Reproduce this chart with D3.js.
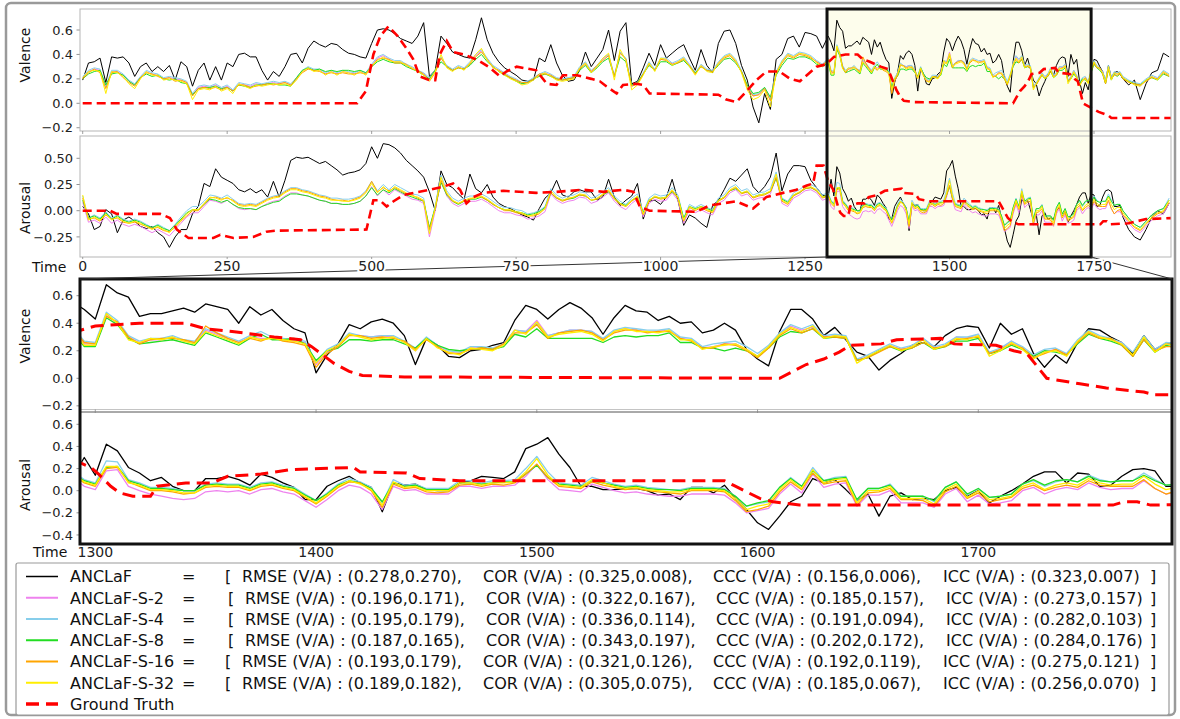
<!DOCTYPE html>
<html>
<head>
<meta charset="utf-8">
<script src="https://cdn.jsdelivr.net/npm/d3@7"></script>
<style>
  body { margin: 0; background: #fff; }
  svg { display: block; font-family: 'DejaVu Sans', sans-serif; }
</style>
</head>
<body>
<svg id="chart" width="1180" height="719"></svg>
<script>
// sampling grid: every 10 frames, every 5 inside the zoomed window
const time = d3.range(0, 1290, 10).concat(d3.range(1290, 1800, 5), d3.range(1800, 1890, 10));

// ---------------- valence ----------------
const ancV = [0.19,0.33,0.34,0.37,0.17,0.38,0.37,0.38,0.33,0.22,
 0.30,0.33,0.26,0.30,0.26,0.31,0.19,0.34,0.30,0.14,
 0.27,0.33,0.19,0.30,0.19,0.33,0.30,0.40,0.41,0.38,
 0.38,0.27,0.19,0.26,0.22,0.30,0.40,0.41,0.33,0.45,
 0.51,0.48,0.46,0.49,0.48,0.44,0.41,0.40,0.38,0.37,
 0.49,0.60,0.61,0.60,0.57,0.53,0.51,0.49,0.55,0.66,
 0.22,0.27,0.55,0.49,0.42,0.40,0.38,0.37,0.52,0.70,
 0.52,0.41,0.34,0.29,0.26,0.23,0.19,0.18,0.19,0.37,
 0.34,0.48,0.33,0.23,0.18,0.19,0.27,0.42,0.30,0.37,
 0.44,0.60,0.35,0.59,0.66,0.16,0.18,0.29,0.41,0.31,
 0.48,0.37,0.41,0.45,0.48,0.37,0.27,0.44,0.31,0.25,
 0.49,0.59,0.60,0.49,0.31,0.19,-0.03,-0.16,0.08,-0.05,
 0.36,0.40,0.53,0.55,0.46,0.58,0.57,0.55,0.45,
 0.55,0.50,0.43,0.68,0.62,0.59,0.45,0.47,0.47,0.49,
 0.51,0.48,0.54,0.52,0.50,0.40,0.52,0.46,0.50,0.42,
 0.36,0.33,0.04,0.17,0.25,0.39,0.36,0.41,0.43,0.40,
 0.31,0.10,0.29,0.24,0.16,0.15,0.20,0.21,0.24,0.26,
 0.42,0.53,0.50,0.43,0.50,0.55,0.51,0.44,0.32,0.44,
 0.53,0.49,0.48,0.42,0.45,0.40,0.41,0.33,0.35,0.40,
 0.35,0.21,0.14,0.09,0.34,0.50,0.50,0.43,0.31,0.37,
 0.28,0.19,0.16,0.06,0.13,0.18,0.24,0.26,0.23,0.31,
 0.36,0.38,0.37,0.22,0.40,0.32,0.36,0.18,0.08,0.17,
 0.11,0.26,0.36,0.35,0.30,0.26,0.18,0.31,0.21,0.25,
 0.26,0.24,
 0.20,0.15,0.19,0.03,0.16,0.25,0.27,0.41,0.38];

const s2V = [0.21,0.26,0.28,0.27,0.13,0.26,0.26,0.23,0.18,0.15,
 0.21,0.26,0.24,0.23,0.20,0.21,0.20,0.19,0.17,0.07,
 0.13,0.14,0.13,0.15,0.12,0.14,0.10,0.16,0.15,0.14,
 0.16,0.15,0.16,0.17,0.16,0.17,0.15,0.20,0.26,0.29,
 0.27,0.27,0.24,0.26,0.24,0.26,0.25,0.24,0.26,0.24,
 0.31,0.37,0.39,0.36,0.34,0.34,0.31,0.29,0.26,0.24,
 0.20,0.26,0.37,0.30,0.27,0.30,0.28,0.33,0.39,0.43,
 0.36,0.30,0.27,0.24,0.21,0.19,0.16,0.17,0.20,0.23,
 0.25,0.23,0.20,0.19,0.20,0.21,0.29,0.33,0.26,0.30,
 0.36,0.40,0.22,0.42,0.36,0.14,0.16,0.24,0.33,0.27,
 0.36,0.36,0.32,0.34,0.37,0.31,0.24,0.31,0.27,0.26,
 0.33,0.38,0.40,0.35,0.26,0.13,0.06,0.07,0.12,0.03,
 0.25,0.34,0.40,0.38,0.41,0.40,0.38,0.34,0.31,
 0.36,0.25,0.25,0.46,0.40,0.30,0.26,0.28,0.28,0.30,
 0.27,0.26,0.35,0.32,0.29,0.26,0.30,0.29,0.29,0.28,
 0.27,0.26,0.10,0.19,0.23,0.32,0.31,0.30,0.31,0.30,
 0.26,0.20,0.29,0.23,0.19,0.18,0.22,0.22,0.21,0.25,
 0.35,0.34,0.42,0.31,0.33,0.35,0.35,0.34,0.28,0.34,
 0.36,0.35,0.34,0.34,0.35,0.29,0.28,0.22,0.23,0.25,
 0.25,0.21,0.16,0.23,0.32,0.38,0.35,0.37,0.30,0.31,
 0.30,0.13,0.16,0.20,0.24,0.21,0.23,0.29,0.22,0.24,
 0.30,0.29,0.32,0.18,0.21,0.27,0.22,0.15,0.19,0.21,
 0.17,0.26,0.34,0.30,0.28,0.26,0.16,0.29,0.20,0.25,
 0.24,0.25,
 0.21,0.18,0.16,0.14,0.19,0.22,0.20,0.26,0.23];

const s4V = [0.22,0.27,0.29,0.28,0.14,0.27,0.27,0.24,0.19,0.16,
 0.22,0.27,0.25,0.24,0.21,0.22,0.21,0.20,0.18,0.08,
 0.14,0.15,0.14,0.16,0.13,0.15,0.11,0.17,0.16,0.15,
 0.17,0.16,0.17,0.18,0.17,0.18,0.16,0.21,0.27,0.30,
 0.28,0.28,0.25,0.27,0.25,0.27,0.26,0.25,0.27,0.25,
 0.32,0.38,0.40,0.37,0.35,0.35,0.32,0.30,0.27,0.25,
 0.21,0.27,0.38,0.31,0.28,0.31,0.29,0.34,0.40,0.44,
 0.37,0.31,0.28,0.25,0.22,0.20,0.17,0.18,0.21,0.24,
 0.26,0.24,0.21,0.20,0.21,0.22,0.30,0.34,0.27,0.31,
 0.37,0.40,0.23,0.42,0.37,0.15,0.17,0.25,0.34,0.28,
 0.37,0.37,0.33,0.35,0.38,0.32,0.25,0.32,0.28,0.27,
 0.34,0.39,0.41,0.36,0.27,0.14,0.07,0.08,0.13,0.04,
 0.26,0.35,0.41,0.39,0.42,0.41,0.39,0.35,0.32,
 0.37,0.27,0.26,0.48,0.42,0.31,0.27,0.29,0.29,0.31,
 0.28,0.27,0.36,0.33,0.30,0.27,0.31,0.34,0.30,0.29,
 0.28,0.27,0.12,0.21,0.25,0.33,0.31,0.30,0.31,0.31,
 0.27,0.22,0.30,0.24,0.20,0.19,0.23,0.23,0.22,0.25,
 0.35,0.34,0.40,0.31,0.33,0.35,0.35,0.34,0.29,0.35,
 0.37,0.36,0.35,0.35,0.36,0.30,0.29,0.23,0.25,0.26,
 0.27,0.23,0.18,0.24,0.33,0.39,0.36,0.39,0.31,0.32,
 0.31,0.14,0.17,0.21,0.25,0.22,0.24,0.29,0.23,0.25,
 0.30,0.30,0.32,0.19,0.22,0.27,0.23,0.17,0.21,0.22,
 0.18,0.28,0.35,0.31,0.29,0.26,0.19,0.31,0.21,0.26,
 0.25,0.26,
 0.22,0.19,0.17,0.16,0.20,0.23,0.21,0.27,0.24];

const s8V = [0.20,0.24,0.26,0.27,0.15,0.24,0.25,0.23,0.18,0.15,
 0.21,0.24,0.22,0.23,0.20,0.19,0.20,0.17,0.16,0.07,
 0.12,0.13,0.13,0.14,0.12,0.13,0.10,0.15,0.14,0.13,
 0.15,0.15,0.16,0.16,0.15,0.15,0.14,0.21,0.27,0.29,
 0.27,0.28,0.26,0.27,0.26,0.27,0.27,0.26,0.27,0.25,
 0.30,0.34,0.36,0.34,0.33,0.33,0.30,0.28,0.26,0.23,
 0.20,0.27,0.34,0.30,0.27,0.29,0.28,0.31,0.36,0.40,
 0.34,0.30,0.26,0.23,0.21,0.18,0.16,0.17,0.20,0.22,
 0.24,0.22,0.20,0.19,0.20,0.21,0.27,0.31,0.25,0.29,
 0.34,0.37,0.22,0.38,0.34,0.15,0.17,0.24,0.31,0.27,
 0.34,0.34,0.31,0.33,0.35,0.30,0.25,0.30,0.27,0.26,
 0.31,0.36,0.37,0.33,0.26,0.15,0.08,0.09,0.13,0.05,
 0.23,0.31,0.37,0.36,0.38,0.38,0.36,0.32,0.30,
 0.33,0.23,0.23,0.44,0.39,0.29,0.25,0.26,0.27,0.28,
 0.26,0.24,0.33,0.30,0.27,0.24,0.29,0.32,0.28,0.28,
 0.29,0.25,0.13,0.20,0.22,0.28,0.28,0.27,0.28,0.28,
 0.25,0.22,0.29,0.24,0.21,0.20,0.21,0.22,0.21,0.23,
 0.32,0.30,0.36,0.29,0.29,0.29,0.29,0.29,0.26,0.30,
 0.31,0.30,0.31,0.31,0.33,0.26,0.26,0.22,0.22,0.20,
 0.22,0.20,0.16,0.22,0.30,0.34,0.33,0.36,0.29,0.30,
 0.29,0.13,0.15,0.20,0.23,0.20,0.22,0.26,0.21,0.23,
 0.27,0.27,0.29,0.18,0.20,0.24,0.21,0.16,0.20,0.19,
 0.17,0.25,0.32,0.29,0.27,0.24,0.16,0.28,0.19,0.24,
 0.22,0.24,
 0.20,0.18,0.16,0.15,0.19,0.21,0.19,0.24,0.22];

const s16V = [0.20,0.25,0.28,0.25,0.12,0.25,0.26,0.21,0.17,0.14,
 0.21,0.25,0.24,0.22,0.20,0.21,0.18,0.19,0.17,0.06,
 0.12,0.13,0.12,0.13,0.11,0.13,0.10,0.15,0.15,0.13,
 0.14,0.15,0.16,0.15,0.16,0.17,0.15,0.20,0.25,0.28,
 0.27,0.26,0.24,0.25,0.24,0.25,0.24,0.24,0.25,0.24,
 0.30,0.36,0.37,0.36,0.33,0.33,0.32,0.28,0.27,0.24,
 0.18,0.25,0.37,0.30,0.27,0.29,0.28,0.32,0.38,0.42,
 0.36,0.29,0.27,0.24,0.21,0.19,0.17,0.17,0.20,0.24,
 0.24,0.23,0.20,0.19,0.20,0.21,0.28,0.32,0.26,0.31,
 0.35,0.39,0.22,0.41,0.36,0.14,0.16,0.24,0.32,0.27,
 0.36,0.35,0.32,0.33,0.36,0.31,0.24,0.30,0.27,0.26,
 0.32,0.37,0.39,0.34,0.26,0.13,0.06,0.07,0.12,0.02,
 0.24,0.33,0.39,0.37,0.40,0.39,0.37,0.34,0.31,
 0.36,0.26,0.25,0.45,0.41,0.30,0.25,0.28,0.29,0.29,
 0.28,0.26,0.38,0.33,0.29,0.26,0.29,0.27,0.30,0.27,
 0.26,0.24,0.08,0.18,0.23,0.31,0.31,0.29,0.30,0.29,
 0.27,0.21,0.28,0.23,0.18,0.18,0.21,0.22,0.21,0.25,
 0.33,0.33,0.39,0.29,0.33,0.34,0.35,0.33,0.28,0.33,
 0.35,0.35,0.33,0.34,0.34,0.29,0.27,0.22,0.22,0.25,
 0.24,0.20,0.15,0.22,0.31,0.36,0.33,0.36,0.30,0.30,
 0.29,0.13,0.15,0.19,0.23,0.21,0.22,0.26,0.22,0.23,
 0.28,0.29,0.30,0.18,0.21,0.25,0.22,0.15,0.18,0.21,
 0.17,0.26,0.33,0.29,0.29,0.24,0.16,0.28,0.20,0.23,
 0.23,0.24,
 0.20,0.17,0.16,0.15,0.18,0.21,0.20,0.25,0.22];

const s32V = [0.21,0.26,0.27,0.26,0.08,0.26,0.25,0.22,0.16,0.12,
 0.20,0.26,0.23,0.23,0.19,0.20,0.19,0.18,0.16,0.03,
 0.11,0.12,0.11,0.14,0.10,0.12,0.08,0.16,0.14,0.12,
 0.15,0.14,0.15,0.16,0.15,0.16,0.14,0.19,0.26,0.29,
 0.26,0.27,0.23,0.26,0.23,0.26,0.25,0.23,0.26,0.23,
 0.31,0.35,0.38,0.35,0.34,0.34,0.31,0.29,0.26,0.23,
 0.19,0.26,0.40,0.29,0.26,0.30,0.27,0.33,0.40,0.45,
 0.35,0.30,0.26,0.23,0.20,0.18,0.15,0.16,0.19,0.23,
 0.25,0.22,0.19,0.18,0.19,0.20,0.29,0.33,0.25,0.30,
 0.37,0.41,0.19,0.44,0.35,0.11,0.15,0.23,0.33,0.26,
 0.37,0.36,0.31,0.34,0.37,0.30,0.23,0.31,0.26,0.25,
 0.33,0.38,0.40,0.35,0.25,0.11,0.03,0.05,0.11,-0.03,
 0.25,0.34,0.40,0.38,0.41,0.40,0.38,0.33,0.30,
 0.35,0.24,0.24,0.47,0.40,0.28,0.26,0.29,0.28,0.30,
 0.27,0.25,0.34,0.31,0.28,0.25,0.30,0.28,0.29,0.28,
 0.27,0.25,0.11,0.20,0.24,0.32,0.30,0.28,0.29,0.30,
 0.26,0.20,0.29,0.22,0.19,0.17,0.22,0.21,0.20,0.24,
 0.35,0.32,0.41,0.30,0.32,0.33,0.34,0.32,0.27,0.34,
 0.36,0.34,0.34,0.33,0.35,0.28,0.28,0.21,0.23,0.24,
 0.25,0.21,0.16,0.23,0.32,0.37,0.34,0.38,0.29,0.31,
 0.30,0.11,0.16,0.20,0.24,0.20,0.23,0.28,0.21,0.24,
 0.29,0.28,0.31,0.16,0.20,0.26,0.21,0.14,0.19,0.20,
 0.16,0.27,0.34,0.30,0.28,0.25,0.17,0.30,0.19,0.25,
 0.24,0.25,
 0.21,0.18,0.15,0.14,0.19,0.22,0.19,0.26,0.23];

// ground truth is piecewise, kept as [time, value]
const gtV = [[0,0],[475,0],[490,0.1],[503,0.4],[515,0.55],[529,0.63],[545,0.55],[560,0.45],
 [572,0.36],[583,0.22],[600,0.19],[610,0.19],[618,0.40],[630,0.51],[641,0.42],[660,0.40],
 [685,0.35],[705,0.29],[722,0.22],[733,0.26],[751,0.30],[785,0.27],[803,0.16],[820,0.15],
 [831,0.23],[855,0.23],[880,0.20],[895,0.18],[906,0.14],[924,0.08],[935,0.15],[958,0.16],
 [970,0.15],[981,0.08],[1100,0.07],[1114,0.03],[1131,0.01],[1149,0.10],[1166,0.19],[1183,0.26],
 [1206,0.26],[1224,0.20],[1241,0.18],[1258,0.25],[1270,0.30],[1287,0.32],[1300,0.38],[1320,0.40],
 [1341,0.40],[1350,0.36],[1362,0.34],[1381,0.30],[1393,0.28],[1398,0.23],[1408,0.11],[1415,0.05],
 [1421,0.02],[1440,0.01],[1610,0],[1616,0.05],[1622,0.10],[1630,0.14],[1637,0.19],[1642,0.24],
 [1656,0.25],[1663,0.28],[1683,0.29],[1689,0.25],[1708,0.24],[1716,0.20],[1722,0.18],[1727,0.08],
 [1731,0],[1746,-0.04],[1758,-0.07],[1775,-0.10],[1780,-0.12],[1885,-0.12]];

// ---------------- arousal ----------------
const ancA = [0.04,-0.03,-0.18,-0.15,0.01,-0.03,-0.21,-0.09,-0.06,-0.10,
 -0.15,-0.17,-0.15,-0.21,-0.25,-0.35,-0.25,-0.18,-0.18,-0.03,
 0.04,0.26,0.23,0.40,0.32,0.29,0.26,0.20,0.18,0.21,
 0.17,0.20,0.13,0.28,0.13,0.29,0.48,0.51,0.50,0.51,
 0.48,0.45,0.47,0.43,0.39,0.34,0.36,0.37,0.39,0.45,
 0.61,0.50,0.64,0.63,0.60,0.55,0.48,0.43,0.38,0.32,
 0.18,0.00,0.38,0.25,0.22,0.16,0.11,0.35,0.21,0.17,
 0.25,0.13,0.07,0.04,0.02,-0.01,-0.04,-0.06,-0.09,0.02,
 0.12,0.17,0.29,0.15,0.13,0.18,0.20,0.18,0.18,0.10,
 0.13,0.30,0.13,0.05,0.10,0.14,0.26,-0.08,0.09,0.10,
 0.06,0.13,0.30,0.10,-0.14,-0.04,-0.07,-0.12,-0.16,0.05,
 0.10,0.20,0.31,0.28,0.34,0.40,0.23,0.17,0.23,0.32,
 0.55,0.19,0.35,0.43,0.43,0.42,0.29,0.22,0.15,
 0.13,0.30,0.14,0.42,0.36,0.21,0.16,0.09,0.12,0.04,
 0.00,0.00,0.11,0.11,0.13,0.10,0.05,0.15,0.12,0.07,
 0.03,-0.08,-0.08,0.04,0.09,0.13,0.07,0.03,-0.19,0.07,
 0.05,0.06,0.01,0.00,0.00,0.07,0.09,0.13,0.12,0.11,
 0.17,0.38,0.42,0.48,0.33,0.21,0.04,0.04,0.01,0.01,
 0.02,0.02,0.00,-0.04,-0.03,-0.08,0.03,0.03,-0.02,0.05,
 -0.07,-0.17,-0.29,-0.35,-0.23,-0.10,-0.05,0.11,0.07,0.10,
 0.01,-0.09,-0.03,-0.23,-0.05,-0.02,-0.08,-0.07,-0.08,0.00,
 0.03,-0.05,0.00,-0.11,-0.05,0.00,0.06,0.13,0.17,0.17,
 0.07,0.16,0.15,0.04,0.05,0.13,0.19,0.20,0.18,0.04,
 0.04,0.05,
 -0.06,-0.18,-0.25,-0.28,-0.18,-0.06,0.00,-0.03,0.07];

const s2A = [0.08,-0.11,-0.09,-0.12,-0.06,-0.12,-0.09,-0.13,-0.15,-0.13,
 -0.15,-0.18,-0.21,-0.18,-0.21,-0.24,-0.18,-0.12,-0.06,-0.02,
 -0.02,0.04,0.10,0.09,0.07,0.10,0.06,0.02,0.01,0.02,
 0.01,0.04,0.07,0.09,0.10,0.14,0.17,0.17,0.15,0.14,
 0.12,0.10,0.09,0.07,0.07,0.06,0.06,0.07,0.09,0.14,
 0.23,0.14,0.20,0.15,0.20,0.17,0.14,0.11,0.10,0.07,
 -0.25,0.00,0.29,0.14,0.07,0.04,0.07,0.09,0.09,0.11,
 0.08,0.04,0.00,-0.02,-0.02,-0.04,-0.05,-0.08,-0.07,-0.05,
 -0.01,0.16,0.10,0.07,0.09,0.10,0.13,0.12,0.07,0.09,
 0.13,0.17,0.09,0.04,0.01,0.07,0.11,-0.06,0.07,0.11,
 0.09,0.10,0.17,0.10,-0.12,0.01,-0.02,0.01,-0.02,-0.04,
 0.07,0.10,0.17,0.20,0.14,0.16,0.10,0.12,0.13,0.16,
 0.32,0.07,0.04,0.12,0.15,0.19,0.20,0.17,0.10,
 0.12,0.04,0.01,0.18,0.19,0.04,0.00,-0.03,-0.05,-0.07,
 -0.08,-0.07,-0.01,0.00,-0.01,0.00,-0.03,0.01,0.02,-0.01,
 -0.03,-0.09,-0.15,-0.08,0.00,0.05,0.03,-0.03,-0.17,0.04,
 0.00,0.01,-0.03,-0.03,-0.03,0.04,0.04,0.02,0.04,0.04,
 0.05,0.13,0.24,0.10,0.01,0.00,-0.01,0.06,0.03,0.00,
 -0.02,-0.01,-0.03,-0.04,-0.05,-0.05,-0.03,-0.03,-0.03,-0.04,
 -0.11,-0.20,-0.18,-0.16,-0.03,0.06,-0.02,0.15,0.03,0.06,
 0.07,-0.14,-0.04,-0.04,0.00,-0.11,-0.11,-0.11,-0.15,-0.03,
 0.02,-0.10,-0.04,-0.12,-0.11,-0.09,0.00,0.03,-0.03,0.01,
 0.03,0.01,0.07,0.03,0.01,0.02,0.02,0.09,0.02,-0.03,
 -0.01,-0.01,
 -0.05,-0.12,-0.18,-0.21,-0.15,-0.09,-0.05,-0.03,0.07];

const s4A = [0.14,-0.07,-0.04,-0.07,-0.01,-0.07,-0.04,-0.08,-0.10,-0.08,
 -0.10,-0.13,-0.16,-0.13,-0.16,-0.19,-0.13,-0.06,0.00,0.04,
 0.04,0.09,0.15,0.14,0.12,0.15,0.11,0.07,0.06,0.07,
 0.06,0.09,0.12,0.14,0.15,0.19,0.22,0.22,0.20,0.19,
 0.17,0.15,0.14,0.12,0.12,0.11,0.11,0.12,0.14,0.19,
 0.28,0.19,0.25,0.20,0.25,0.22,0.19,0.16,0.15,0.12,
 -0.19,0.05,0.34,0.19,0.12,0.09,0.12,0.14,0.14,0.16,
 0.13,0.09,0.05,0.03,0.03,0.01,0.00,-0.03,-0.02,0.00,
 0.04,0.21,0.15,0.12,0.14,0.15,0.18,0.17,0.12,0.14,
 0.18,0.22,0.14,0.09,0.06,0.12,0.16,-0.01,0.12,0.16,
 0.14,0.15,0.22,0.15,-0.07,0.06,0.03,0.06,0.03,0.01,
 0.12,0.15,0.22,0.25,0.19,0.21,0.15,0.17,0.18,0.21,
 0.37,0.12,0.09,0.17,0.20,0.24,0.25,0.22,0.15,
 0.17,0.10,0.07,0.27,0.26,0.10,0.07,0.03,0.03,0.02,
 0.00,0.00,0.06,0.07,0.06,0.06,0.03,0.07,0.08,0.05,
 0.03,-0.03,-0.09,-0.02,0.06,0.11,0.08,0.03,-0.11,0.10,
 0.05,0.06,0.02,0.02,0.02,0.09,0.09,0.07,0.09,0.09,
 0.10,0.20,0.31,0.17,0.07,0.06,0.05,0.12,0.09,0.06,
 0.04,0.05,0.03,0.02,0.01,0.01,0.03,0.03,0.03,0.02,
 -0.05,-0.14,-0.12,-0.10,0.03,0.12,0.04,0.21,0.09,0.12,
 0.13,-0.09,0.02,0.02,0.06,-0.05,-0.05,-0.05,-0.10,0.03,
 0.08,-0.04,0.02,-0.06,-0.05,-0.03,0.06,0.09,0.04,0.08,
 0.10,0.08,0.14,0.10,0.08,0.09,0.09,0.16,0.10,0.05,
 0.06,0.06,
 0.00,-0.07,-0.13,-0.16,-0.10,-0.04,0.00,0.02,0.12];

const s8A = [0.10,-0.07,-0.05,-0.08,-0.02,-0.08,-0.05,-0.09,-0.11,-0.09,
 -0.11,-0.14,-0.16,-0.14,-0.17,-0.19,-0.14,-0.08,-0.02,0.01,
 0.01,0.06,0.11,0.10,0.08,0.10,0.06,0.03,0.02,0.02,
 0.01,0.04,0.06,0.08,0.09,0.13,0.16,0.16,0.15,0.14,
 0.12,0.10,0.09,0.07,0.07,0.06,0.06,0.07,0.09,0.14,
 0.22,0.15,0.20,0.17,0.21,0.18,0.15,0.13,0.11,0.09,
 -0.16,0.03,0.27,0.15,0.09,0.06,0.09,0.11,0.11,0.13,
 0.10,0.06,0.03,0.01,0.00,-0.01,-0.02,-0.04,-0.03,-0.01,
 0.03,0.17,0.12,0.10,0.11,0.12,0.15,0.14,0.10,0.11,
 0.15,0.18,0.12,0.07,0.05,0.10,0.13,-0.02,0.10,0.13,
 0.12,0.13,0.18,0.13,-0.07,0.04,0.02,0.04,0.02,0.00,
 0.10,0.13,0.19,0.21,0.17,0.18,0.13,0.15,0.16,0.18,
 0.31,0.11,0.08,0.15,0.17,0.21,0.22,0.19,0.13,
 0.15,0.09,0.06,0.21,0.22,0.09,0.06,0.02,0.02,0.01,
 0.00,0.00,0.05,0.06,0.05,0.05,0.02,0.06,0.07,0.04,
 0.02,-0.04,-0.09,-0.03,0.05,0.09,0.07,0.02,-0.10,0.07,
 0.04,0.05,0.01,0.01,0.01,0.07,0.07,0.06,0.07,0.08,
 0.08,0.15,0.23,0.12,0.06,0.05,0.04,0.09,0.07,0.05,
 0.03,0.04,0.02,0.01,0.01,0.00,0.02,0.02,0.02,0.01,
 -0.05,-0.14,-0.11,-0.09,0.03,0.11,0.04,0.18,0.09,0.11,
 0.12,-0.08,0.02,0.02,0.05,-0.05,-0.05,-0.05,-0.09,0.03,
 0.08,-0.03,0.02,-0.06,-0.05,-0.03,0.06,0.10,0.05,0.09,
 0.10,0.08,0.13,0.09,0.08,0.09,0.09,0.14,0.09,0.05,
 0.06,0.06,
 0.00,-0.07,-0.13,-0.16,-0.10,-0.04,0.00,0.02,0.10];

const s16A = [0.12,-0.08,-0.07,-0.10,-0.04,-0.08,-0.07,-0.11,-0.12,-0.11,
 -0.13,-0.15,-0.17,-0.16,-0.19,-0.20,-0.16,-0.10,-0.05,0.00,
 0.00,0.06,0.12,0.13,0.11,0.12,0.10,0.06,0.05,0.06,
 0.05,0.08,0.11,0.13,0.14,0.18,0.21,0.21,0.19,0.18,
 0.16,0.14,0.13,0.11,0.10,0.10,0.09,0.11,0.13,0.18,
 0.28,0.18,0.22,0.19,0.22,0.19,0.16,0.15,0.12,0.09,
 -0.18,0.02,0.29,0.16,0.09,0.07,0.09,0.11,0.13,0.13,
 0.10,0.06,0.03,0.00,0.00,-0.02,-0.03,-0.05,-0.05,-0.03,
 0.02,0.17,0.12,0.09,0.11,0.13,0.15,0.14,0.10,0.11,
 0.15,0.19,0.11,0.06,0.04,0.09,0.13,-0.04,0.09,0.13,
 0.11,0.12,0.19,0.12,-0.10,0.03,0.00,0.03,0.00,-0.02,
 0.09,0.12,0.19,0.22,0.16,0.18,0.12,0.14,0.15,0.18,
 0.32,0.09,0.06,0.14,0.17,0.21,0.22,0.19,0.12,
 0.14,0.07,0.04,0.20,0.21,0.08,0.04,0.00,0.00,-0.01,
 -0.03,-0.02,0.03,0.04,0.03,0.03,0.00,0.04,0.05,0.02,
 0.00,-0.06,-0.12,-0.05,0.03,0.08,0.07,0.00,-0.15,0.06,
 0.02,0.03,-0.01,-0.02,-0.01,0.05,0.06,0.04,0.06,0.05,
 0.07,0.15,0.24,0.12,0.04,0.03,0.02,0.08,0.05,0.03,
 0.01,0.02,0.00,-0.01,-0.02,-0.03,0.00,0.00,0.00,-0.01,
 -0.09,-0.19,-0.17,-0.14,-0.01,0.08,0.01,0.16,0.06,0.08,
 0.09,-0.13,-0.02,-0.01,0.02,-0.08,-0.08,-0.09,-0.14,-0.01,
 0.04,-0.07,-0.02,-0.10,-0.08,-0.06,0.02,0.05,0.00,0.03,
 0.05,0.03,0.09,0.05,0.04,0.04,0.04,0.10,0.02,-0.03,
 0.00,0.01,
 -0.04,-0.10,-0.16,-0.19,-0.13,-0.07,-0.03,-0.01,0.08];

const s32A = [0.15,-0.09,-0.06,-0.09,-0.03,-0.09,-0.06,-0.10,-0.12,-0.10,
 -0.12,-0.15,-0.18,-0.15,-0.18,-0.21,-0.15,-0.09,-0.03,0.01,
 0.01,0.07,0.13,0.12,0.10,0.13,0.09,0.05,0.04,0.05,
 0.04,0.07,0.10,0.12,0.13,0.17,0.20,0.20,0.18,0.17,
 0.15,0.13,0.12,0.10,0.10,0.09,0.09,0.10,0.12,0.17,
 0.26,0.17,0.23,0.18,0.23,0.20,0.17,0.14,0.13,0.10,
 -0.22,0.03,0.32,0.17,0.10,0.07,0.10,0.12,0.12,0.14,
 0.11,0.07,0.03,0.01,0.01,-0.01,-0.02,-0.05,-0.04,-0.02,
 0.02,0.19,0.13,0.10,0.12,0.13,0.16,0.15,0.10,0.12,
 0.16,0.20,0.12,0.07,0.04,0.10,0.14,-0.03,0.10,0.14,
 0.12,0.13,0.20,0.13,-0.09,0.04,0.01,0.04,0.01,-0.01,
 0.10,0.13,0.20,0.23,0.17,0.19,0.13,0.15,0.16,0.19,
 0.35,0.10,0.07,0.15,0.18,0.22,0.23,0.20,0.13,
 0.15,0.08,0.05,0.22,0.22,0.07,0.05,0.01,0.01,0.00,
 -0.02,-0.02,0.04,0.05,0.04,0.04,0.01,0.05,0.06,0.03,
 0.01,-0.05,-0.11,-0.04,0.04,0.09,0.06,0.01,-0.13,0.08,
 0.03,0.04,0.00,0.00,0.00,0.07,0.07,0.05,0.07,0.07,
 0.08,0.17,0.29,0.14,0.05,0.04,0.03,0.10,0.07,0.04,
 0.02,0.03,0.01,0.00,-0.01,-0.01,0.01,0.01,0.01,0.00,
 -0.07,-0.17,-0.14,-0.12,0.01,0.10,0.02,0.19,0.07,0.10,
 0.11,-0.11,0.00,0.00,0.04,-0.07,-0.07,-0.07,-0.12,0.01,
 0.06,-0.06,0.00,-0.08,-0.07,-0.05,0.04,0.07,0.01,0.05,
 0.07,0.05,0.11,0.07,0.05,0.06,0.06,0.13,0.06,0.01,
 0.03,0.03,
 -0.02,-0.09,-0.15,-0.18,-0.12,-0.06,-0.02,0.00,0.10];

const gtA = [[0,0],[47,0],[59,-0.03],[134,-0.03],[151,-0.07],[163,-0.18],[183,-0.26],[226,-0.26],
 [238,-0.23],[261,-0.26],[295,-0.25],[318,-0.20],[336,-0.19],[491,-0.18],[503,0.10],[514,0.10],
 [526,0.04],[538,0.09],[555,0.15],[601,0.20],[624,0.23],[641,0.26],[653,0.20],[664,0.07],
 [676,0.13],[693,0.17],[728,0.19],[785,0.17],[820,0.18],[866,0.20],[901,0.18],[935,0.20],
 [953,0.18],[964,0.04],[981,0],[1062,-0.01],[1085,0.05],[1131,0.09],[1160,0.02],[1183,0.13],
 [1212,0.17],[1235,0.20],[1253,0.24],[1264,0.26],[1270,0.43],[1282,0.43],[1290,0.28],[1298,0.21],
 [1302,0.14],[1307,0.04],[1311,-0.02],[1317,-0.05],[1325,-0.05],[1328,0.04],[1341,0.07],[1353,0.07],
 [1360,0.13],[1375,0.15],[1388,0.19],[1402,0.20],[1417,0.21],[1420,0.17],[1441,0.16],[1447,0.11],
 [1465,0.09],[1585,0.09],[1589,0.05],[1595,-0.01],[1601,-0.07],[1607,-0.10],[1619,-0.13],[1761,-0.13],
 [1766,-0.10],[1772,-0.10],[1778,-0.13],[1810,-0.12],[1840,-0.08],[1885,-0.07]];

// ---------------- legend ----------------
const names = ['ANCLaF', 'ANCLaF-S-2', 'ANCLaF-S-4', 'ANCLaF-S-8', 'ANCLaF-S-16', 'ANCLaF-S-32'];
const colors = ['#000000', '#ee82ee', '#87ceeb', '#22dd22', '#ffa500', '#ffee00'];
const rmse = [[0.278,0.270],[0.196,0.171],[0.195,0.179],[0.187,0.165],[0.193,0.179],[0.189,0.182]];
const cor  = [[0.325,0.008],[0.322,0.167],[0.336,0.114],[0.343,0.197],[0.321,0.126],[0.305,0.075]];
const ccc  = [[0.156,0.006],[0.185,0.157],[0.191,0.094],[0.202,0.172],[0.192,0.119],[0.185,0.067]];
const icc  = [[0.323,0.007],[0.273,0.157],[0.282,0.103],[0.284,0.176],[0.275,0.121],[0.256,0.070]];

const zoomWindow = [1288, 1745];   // range highlighted in the overview
const topTicks = [0, 250, 500, 750, 1000, 1250, 1500, 1750];
const botTicks = [1300, 1400, 1500, 1600, 1700];

const valenceSeries = [ancV, s2V, s4V, s8V, s16V, s32V];
const arousalSeries = [ancA, s2A, s4A, s8A, s16A, s32A];

const svg = d3.select('#chart');

// outer frame of the figure
svg.append('rect')
  .attr('x', 6).attr('y', 3).attr('width', 1169).attr('height', 712).attr('rx', 5)
  .attr('fill', 'none').attr('stroke', '#9a9a9a').attr('stroke-width', 2.5);

const xTop = d3.scaleLinear().domain([0, 1750]).range([82.7, 1094]);
const xBot = d3.scaleLinear().domain([1300, 1700]).range([95.3, 978.3]);

const panels = [
  { name: 'topV', x: xTop, x0: 80, x1: 1171, y0: 9, y1: 131,
    y: d3.scaleLinear().domain([0, 0.6]).range([103.3, 30]),
    ticks: [-0.2, 0, 0.2, 0.4, 0.6], fmt: d3.format('.1f'),
    series: valenceSeries, gt: gtV, label: 'Valence', labelY: 55, lw: 1, gw: 2.6, dash: '9,5' },
  { name: 'topA', x: xTop, x0: 80, x1: 1171, y0: 136, y1: 257,
    y: d3.scaleLinear().domain([0, 0.5]).range([210.7, 158.3]),
    ticks: [-0.25, 0, 0.25, 0.5], fmt: d3.format('.2f'),
    series: arousalSeries, gt: gtA, label: 'Arousal', labelY: 208, lw: 1, gw: 2.6, dash: '9,5' },
  { name: 'botV', x: xBot, x0: 80, x1: 1172, y0: 279, y1: 411,
    y: d3.scaleLinear().domain([0, 0.6]).range([378.3, 295.7]),
    ticks: [-0.2, 0, 0.2, 0.4, 0.6], fmt: d3.format('.1f'),
    series: valenceSeries, gt: gtV, label: 'Valence', labelY: 336, lw: 1.3, gw: 3, dash: '13,7' },
  { name: 'botA', x: xBot, x0: 80, x1: 1172, y0: 412, y1: 544,
    y: d3.scaleLinear().domain([0, 0.6]).range([490.7, 424.3]),
    ticks: [-0.4, -0.2, 0, 0.2, 0.4, 0.6], fmt: d3.format('.1f'),
    series: arousalSeries, gt: gtA, label: 'Arousal', labelY: 485, lw: 1.3, gw: 3, dash: '13,7' }
];

const defs = svg.append('defs');

// highlight fill behind the overview data
const hx0 = xTop(zoomWindow[0]), hx1 = xTop(zoomWindow[1]);
svg.append('rect')
  .attr('x', hx0).attr('y', 9).attr('width', hx1 - hx0).attr('height', 248)
  .attr('fill', '#fdfdec');

panels.forEach(p => {
  defs.append('clipPath').attr('id', 'clip-' + p.name)
    .append('rect').attr('x', p.x0).attr('y', p.y0)
    .attr('width', p.x1 - p.x0).attr('height', p.y1 - p.y0);

  const g = svg.append('g').attr('clip-path', `url(#clip-${p.name})`);

  const line = d3.line()
    .x((d, i) => p.x(time[i]))
    .y(d => p.y(d));

  p.series.forEach((s, k) => {
    g.append('path')
      .datum(s.slice(0, time.length))
      .attr('d', line)
      .attr('fill', 'none')
      .attr('stroke', colors[k])
      .attr('stroke-width', p.lw)
      .attr('stroke-linejoin', 'round');
  });

  g.append('path')
    .datum(p.gt)
    .attr('d', d3.line().x(d => p.x(d[0])).y(d => p.y(d[1])))
    .attr('fill', 'none')
    .attr('stroke', '#ff0000')
    .attr('stroke-width', p.gw)
    .attr('stroke-dasharray', p.dash);

  // y axis ticks and labels
  const yt = svg.append('g');
  p.ticks.forEach(t => {
    const yy = p.y(t);
    yt.append('line').attr('x1', p.x0 - 3.5).attr('x2', p.x0).attr('y1', yy).attr('y2', yy)
      .attr('stroke', '#777').attr('stroke-width', 0.8);
    yt.append('text').attr('x', p.x0 - 7).attr('y', yy + 4.6)
      .attr('text-anchor', 'end').attr('font-size', 13).attr('fill', '#222')
      .text(p.fmt(t));
  });

  svg.append('text')
    .attr('transform', `translate(30,${p.labelY}) rotate(-90)`)
    .attr('text-anchor', 'middle').attr('font-size', 14).attr('fill', '#111')
    .text(p.label);
});

// frames of the overview panels
[panels[0], panels[1]].forEach(p => {
  svg.append('rect')
    .attr('x', p.x0).attr('y', p.y0).attr('width', p.x1 - p.x0).attr('height', p.y1 - p.y0)
    .attr('fill', 'none').attr('stroke', '#b5b5b5').attr('stroke-width', 1);
  topTicks.forEach(t => {
    svg.append('line').attr('x1', xTop(t)).attr('x2', xTop(t)).attr('y1', p.y1).attr('y2', p.y1 + 3)
      .attr('stroke', '#888').attr('stroke-width', 0.8);
  });
});

// divider and ticks of the zoomed panels
svg.append('line').attr('x1', 80).attr('x2', 1172).attr('y1', 409.5).attr('y2', 409.5)
  .attr('stroke', '#c4c4c4').attr('stroke-width', 1);
svg.append('line').attr('x1', 80).attr('x2', 1172).attr('y1', 412).attr('y2', 412)
  .attr('stroke', '#555').attr('stroke-width', 1);
botTicks.forEach(t => {
  svg.append('line').attr('x1', xBot(t)).attr('x2', xBot(t)).attr('y1', 409.5).attr('y2', 413)
    .attr('stroke', '#888').attr('stroke-width', 0.8);
});

// highlight border
svg.append('rect')
  .attr('x', hx0).attr('y', 9).attr('width', hx1 - hx0).attr('height', 248)
  .attr('fill', 'none').attr('stroke', '#111').attr('stroke-width', 3);

// zoomed panels outer border
svg.append('rect')
  .attr('x', 80).attr('y', 279).attr('width', 1092).attr('height', 265)
  .attr('fill', 'none').attr('stroke', '#111').attr('stroke-width', 3);

// connectors
svg.append('line').attr('x1', hx0).attr('y1', 257).attr('x2', 80).attr('y2', 279)
  .attr('stroke', '#333').attr('stroke-width', 1);
svg.append('line').attr('x1', hx1).attr('y1', 257).attr('x2', 1172).attr('y2', 279)
  .attr('stroke', '#333').attr('stroke-width', 1);

// x tick labels
topTicks.forEach(t => {
  svg.append('text').attr('x', xTop(t)).attr('y', 271)
    .attr('text-anchor', 'middle').attr('font-size', 14).attr('fill', '#222')
    .attr('stroke', '#fff').attr('stroke-width', 4).attr('paint-order', 'stroke')
    .text(t);
});
botTicks.forEach(t => {
  svg.append('text').attr('x', xBot(t)).attr('y', 557)
    .attr('text-anchor', 'middle').attr('font-size', 14).attr('fill', '#222')
    .text(t);
});
svg.append('text').attr('x', 32).attr('y', 272).attr('font-size', 14).attr('fill', '#111').text('Time');
svg.append('text').attr('x', 33).attr('y', 557).attr('font-size', 14).attr('fill', '#111').text('Time');

// legend
const lg = svg.append('g').attr('font-size', 16).attr('fill', '#111');
lg.append('rect').attr('x', 16).attr('y', 563).attr('width', 1153).attr('height', 152).attr('rx', 2)
  .attr('fill', '#fff').attr('stroke', '#9a9a9a').attr('stroke-width', 1.2);

const f3 = d3.format('.3f');
const pair = v => `(${f3(v[0])},${f3(v[1])})`;
const rowH = 21.25;

names.forEach((n, i) => {
  const cy = 576.5 + i * rowH;
  const off = (i >= 1 && i <= 3) ? 3 : 0;
  lg.append('line').attr('x1', 26).attr('x2', 58).attr('y1', cy).attr('y2', cy)
    .attr('stroke', colors[i]).attr('stroke-width', i === 0 ? 1.5 : 2);
  const by = cy + 5.8;
  lg.append('text').attr('x', 70).attr('y', by).text(n);
  lg.append('text').attr('x', 182).attr('y', by).text('=');
  lg.append('text').attr('x', 225 + off).attr('y', by).text('[');
  lg.append('text').attr('x', 242 + off).attr('y', by).text(`RMSE (V/A) : ${pair(rmse[i])},`);
  lg.append('text').attr('x', 483 + off).attr('y', by).text(`COR (V/A) : ${pair(cor[i])},`);
  lg.append('text').attr('x', 713 + off).attr('y', by).text(`CCC (V/A) : ${pair(ccc[i])},`);
  lg.append('text').attr('x', 943 + off).attr('y', by).text(`ICC (V/A) : ${pair(icc[i])}`);
  lg.append('text').attr('x', 1150).attr('y', by).text(']');
});
const gy = 576.5 + 6 * rowH;
lg.append('line').attr('x1', 26).attr('x2', 58).attr('y1', gy).attr('y2', gy)
  .attr('stroke', '#ff0000').attr('stroke-width', 3.5).attr('stroke-dasharray', '13,7');
lg.append('text').attr('x', 70).attr('y', gy + 5.8).text('Ground Truth');
</script>
</body>
</html>
